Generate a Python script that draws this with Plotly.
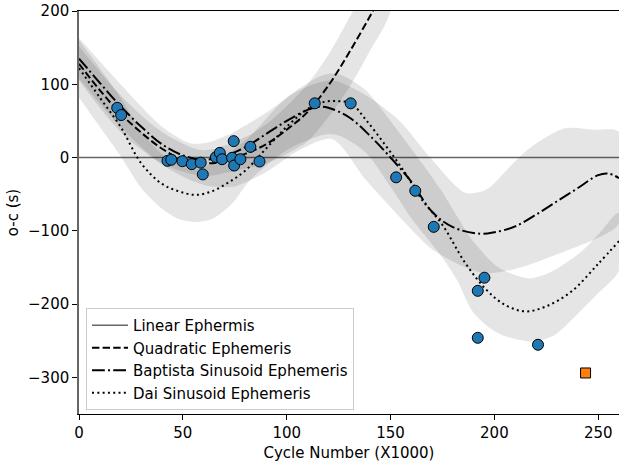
import plotly.graph_objects as go

# ---------------- data ----------------
lin_x = [0, 260]
lin_y = [0, 0]

quad_x = [0, 10, 20, 30, 40, 50, 60, 70, 80, 90, 100, 110, 120, 130, 141.5, 150]
quad_y = [128, 92, 60, 34, 12, -3, -8, -5, 5, 18, 38, 62, 98, 143, 200, 245]

bap_x = [0, 10, 20, 30, 40, 50, 60, 70, 80, 90, 100, 110, 115, 120, 130, 140, 150,
         160, 170, 180, 193, 200, 210, 220, 230, 240, 250, 255, 260]
bap_y = [135, 102, 70, 42, 18, 3, -3, 2, 14, 32, 50, 65, 69, 68, 55, 30, 0,
         -33, -74, -95, -104, -102, -94, -78, -60, -42, -24, -22, -28]

dai_x = [0, 10, 20, 30, 40, 48, 56, 64, 72, 80, 90, 100, 110, 118, 125, 131, 138,
         148, 157, 165, 175, 186, 196, 205, 215, 225, 237, 250, 260]
dai_y = [122, 82, 42, -8, -36, -46, -51, -46, -34, -18, 12, 42, 66, 76, 77, 74, 52,
         15, -21, -57, -92, -144, -180, -201, -210, -203, -183, -145, -114]

# uncertainty bands
qb_x = [0, 20, 40, 60, 80, 90, 100, 110, 120, 130, 140, 150]
qb_up = [152, 85, 35, 10, 28, 45, 70, 100, 140, 190, 245, 305]
qb_lo = [105, 35, -8, -25, -15, -8, 5, 22, 55, 95, 145, 200]

bb_x = [0, 20, 40, 53, 61, 74, 90, 106, 122, 138, 154, 170, 186, 196, 210, 218, 234, 248, 260]
bb_up = [163, 100, 42, 20, 20, 34, 61, 92, 105, 85, 51, -3, -48, -44, -5, 15, 40, 38, 35]
bb_lo = [108, 42, -10, -30, -38, -40, -20, 10, 25, -30, -80, -125, -150, -158, -152, -145, -128, -112, -90]

db_x = [0, 10, 20, 30, 40, 48, 56, 64, 74, 82, 100, 118, 125, 138, 150, 160, 174, 182,
        190, 202, 217, 228, 242, 250, 260]
db_up = [160, 122, 82, 35, 5, -8, -15, -8, 10, 28, 82, 113, 114, 92, 50, 12, -43, -80,
         -115, -150, -165, -155, -128, -105, -75]
db_lo = [82, 42, 2, -42, -70, -84, -88, -84, -62, -32, 10, 31, 30, 7, -40, -83, -133, -167,
         -212, -240, -251, -244, -208, -185, -154]

pts_x = [18.4, 20.3, 42.6, 44.4, 49.8, 54.3, 58.6, 59.6, 65.9, 67.8, 68.9, 74.5, 73.7,
         74.7, 77.7, 82.5, 86.9, 113.5, 130.8, 152.7, 161.9, 170.8, 192.0, 195.2, 192.0, 221.0]
pts_y = [67.8, 58, -4.5, -3, -5, -9, -7, -23, 0.5, 6.4, -2.3, 22.4, -0.4,
         -10.9, -2.3, 14.6, -5.4, 74, 74, -27, -45.4, -94.6, -181.9, -164, -246, -255.5]

new_x = [243.9]
new_y = [-294]

x_ticks = [0, 50, 100, 150, 200, 250]
y_ticks = [-300, -200, -100, 0, 100, 200]
y_ticklabels = ["\u2212300", "\u2212200", "\u2212100", "0", "100", "200"]

FONT = "DejaVu Sans"
FS = 15
BAND = "rgba(0,0,0,0.1)"

fig = go.Figure()

for bx, up, lo in [(qb_x, qb_up, qb_lo), (bb_x, bb_up, bb_lo), (db_x, db_up, db_lo)]:
    fig.add_trace(go.Scatter(
        x=bx + bx[::-1], y=up + lo[::-1], fill="toself", fillcolor=BAND,
        mode="lines", line=dict(width=0, shape="spline", smoothing=0.8),
        showlegend=False, hoverinfo="skip"))

fig.add_trace(go.Scatter(x=lin_x, y=lin_y, mode="lines", name="Linear Ephermis",
                         line=dict(color="rgba(0,0,0,0.6)", width=1.6),
                         legendgroup="a"))
fig.add_trace(go.Scatter(x=quad_x, y=quad_y, mode="lines", name="Quadratic Ephemeris",
                         line=dict(color="black", width=2, dash="7.4px,3.2px", shape="spline"),
                         legendgroup="b"))
fig.add_trace(go.Scatter(x=bap_x, y=bap_y, mode="lines", name="Baptista Sinusoid Ephemeris",
                         line=dict(color="black", width=2, dash="12.8px,3.2px,2px,3.2px",
                                   shape="spline"),
                         legendgroup="c"))
fig.add_trace(go.Scatter(x=dai_x, y=dai_y, mode="lines", name="Dai Sinusoid Ephemeris",
                         line=dict(color="black", width=2, dash="2px,3.3px", shape="spline"),
                         legendgroup="d"))

fig.add_trace(go.Scatter(x=pts_x, y=pts_y, mode="markers", showlegend=False,
                         marker=dict(size=11, color="#1f77b4",
                                     line=dict(color="black", width=1))))
fig.add_trace(go.Scatter(x=new_x, y=new_y, mode="markers", showlegend=False,
                         marker=dict(size=10, symbol="square", color="#ff7f0e",
                                     line=dict(color="black", width=1))))

fig.update_layout(
    width=619, height=463,
    margin=dict(l=79, r=0, t=11, b=49),
    paper_bgcolor="white", plot_bgcolor="white",
    font=dict(family=FONT, size=FS, color="black"),
    showlegend=True,
    legend=dict(x=0.013, y=0.01, xanchor="left", yanchor="bottom",
                bgcolor="rgba(255,255,255,0.8)", bordercolor="#cccccc", borderwidth=1,
                font=dict(family=FONT, size=FS), tracegroupgap=0,
                traceorder="grouped", itemwidth=36),
    xaxis=dict(range=[0, 260], tickvals=x_ticks, ticks="outside", ticklen=5,
               tickcolor="black", showgrid=False, zeroline=False,
               showline=True, linecolor="black", linewidth=1, mirror=True,
               tickfont=dict(family=FONT, size=FS),
               title=dict(text="Cycle Number (X1000)", standoff=6,
                          font=dict(family=FONT, size=FS))),
    yaxis=dict(range=[-350, 200], tickvals=y_ticks, ticktext=y_ticklabels,
               ticks="outside", ticklen=5, tickcolor="black",
               showgrid=False, zeroline=False,
               tickfont=dict(family=FONT, size=FS),
               showline=True, linecolor="#666666", linewidth=1.5,
               title=dict(text="o-c (s)", standoff=6,
                          font=dict(family=FONT, size=FS))),
)

fig.write_html("out.html")
